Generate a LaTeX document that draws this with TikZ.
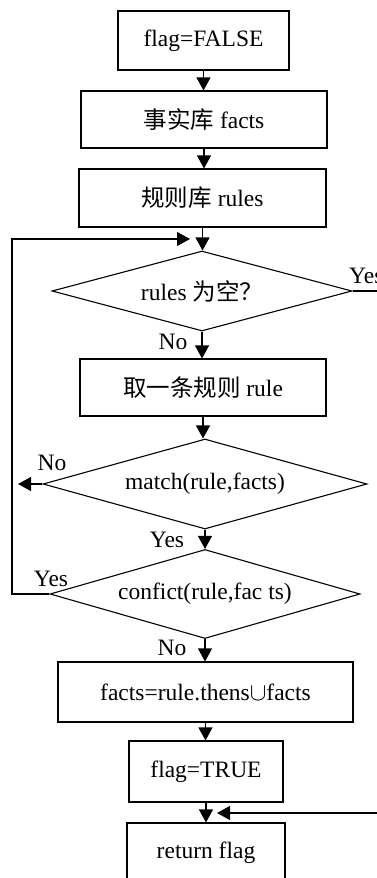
\documentclass[tikz,border=0pt]{standalone}
\usepackage{fontspec}
\setmainfont{Liberation Serif}
\newfontfamily\cjk{Noto Sans CJK SC}
\usetikzlibrary{arrows.meta,shapes.geometric}
\begin{document}
\begin{tikzpicture}[x=1pt,y=-1pt,
  every node/.style={font=\fontsize{23.5}{28}\selectfont},
  box/.style={draw,line width=1.1pt,inner sep=0pt},
  dia/.style={draw,line width=1.1pt,diamond,inner sep=0pt},
  lbl/.style={inner sep=0pt},
  arr/.style={line width=1.1pt,-{Triangle[length=13pt,width=14pt]}},
  ln/.style={line width=1.1pt}]
\useasboundingbox (0,0) rectangle (377,878);
\node[box,minimum width=171pt,minimum height=59pt] (b1) at (203.5,40.5) {flag=FALSE};
\node[box,minimum width=246pt,minimum height=57pt] (b2) at (204,119.5) {{\cjk 事实库} facts};
\node[box,minimum width=247pt,minimum height=58pt] (b3) at (202.5,198) {{\cjk 规则库} rules};
\node[dia,minimum width=300pt,minimum height=80pt,aspect=3.75] (d1) at (202,291) {rules {\cjk 为空？}};
\node[box,minimum width=246pt,minimum height=57pt] (b4) at (203,387.5) {{\cjk 取一条规则} rule};
\node[dia,minimum width=324pt,minimum height=90pt,aspect=3.6] (d2) at (205,484) {match(rule,facts)};
\node[dia,minimum width=310pt,minimum height=89pt,aspect=3.48] (d3) at (205,594) {confict(rule,fac ts)};
\node[box,minimum width=295pt,minimum height=60pt] (b5) at (205.5,692) {facts=rule.thens$\cup$facts};
\node[box,minimum width=154pt,minimum height=61pt] (b6) at (206,771.5) {flag=TRUE};
\node[box,minimum width=158pt,minimum height=60pt] (b7) at (206,853) {return flag};
% labels
\node[lbl,anchor=west] (ly1) at (349,276) {Yes};
\node[lbl] (ln1) at (173,342) {No};
\node[lbl] (ln2) at (52,463) {No};
\node[lbl] (ly2) at (167,540) {Yes};
\node[lbl] (ly3) at (51,579) {Yes};
\node[lbl] (ln3) at (172,648) {No};
% coordinates
\coordinate (r1) at (380,291);
\coordinate (nl) at (18,484);
\coordinate (lp) at (12,594);
\coordinate (lt) at (190,239);
\coordinate (r2) at (380,813);
\coordinate (m7) at (217,813);
% connectors
\draw[arr] (b1.south) -- (b1.south |- b2.north);
\draw[arr] (b2.south) -- (b2.south |- b3.north);
\draw[arr] (b3.south) -- (b3.south |- d1.north);
\draw[ln] (d1.east) -- (r1);
\draw[arr] (d1.south) -- (d1.south |- b4.north);
\draw[arr] (b4.south) -- (b4.south |- d2.north);
\draw[arr] (d2.west) -- (nl);
\draw[arr] (d2.south) -- (d2.south |- d3.north);
\draw[arr] (d3.west) -- (lp) |- (lt);
\draw[arr] (d3.south) -- (d3.south |- b5.north);
\draw[arr] (b5.south) -- (b5.south |- b6.north);
\draw[arr] (b6.south) -- (b6.south |- b7.north);
\draw[arr] (r2) -- (m7);
\end{tikzpicture}
\end{document}
